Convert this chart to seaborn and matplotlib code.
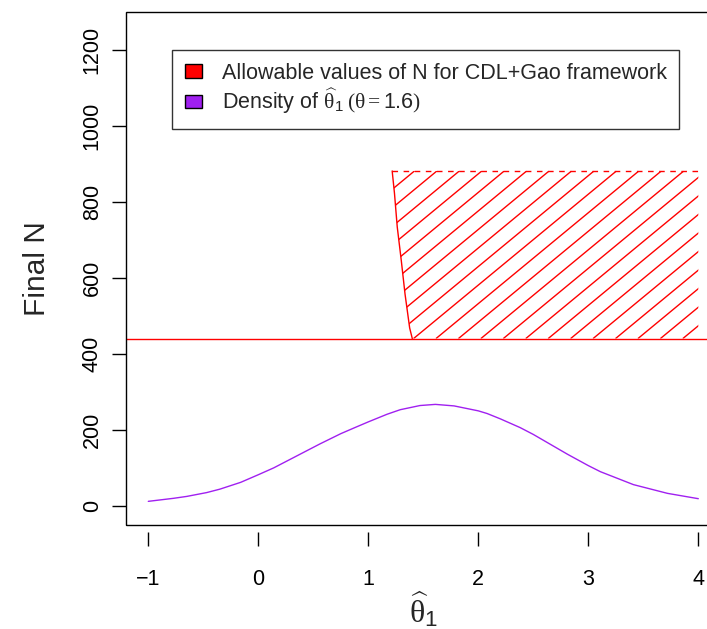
import matplotlib
matplotlib.use("Agg")
import matplotlib.pyplot as plt
import seaborn as sns
from matplotlib.patches import Polygon, Patch, Rectangle
from matplotlib.collections import LineCollection

# density of theta-hat (scaled)
theta_grid = [-1.0, -0.77, -0.65, -0.47, -0.35, -0.16, 0.0, 0.14, 0.26, 0.44,
              0.56, 0.75, 0.87, 1.0, 1.17, 1.29, 1.47, 1.61, 1.78, 2.0,
              2.08, 2.2, 2.38, 2.5, 2.81, 3.0, 3.11, 3.41, 3.72, 4.0]
density_n = [13, 21, 26, 36, 45, 63, 83, 101, 119, 146,
             164, 191, 206, 222, 242, 254, 265, 268, 264, 251,
             244, 230, 207, 189, 137, 107, 91, 57, 34, 20]

# allowable region for CDL+Gao framework
edge_theta = [1.217, 1.238, 1.263, 1.300, 1.334, 1.376, 1.400]
edge_n = [882, 823, 735, 646, 558, 469, 441]
region_right = 4.0
n_lower = 441
n_upper = 882

xticks = [-1, 0, 1, 2, 3, 4]
yticks = [0, 200, 400, 600, 800, 1000, 1200]
legend_labels = ["Allowable values of N for CDL+Gao framework",
                 r"Density of $\widehat{\mathrm{\theta}}_{\mathsf{1}}\;(\mathrm{\theta} = \mathsf{1.6})$"]

RED = "#FF0000"
PURPLE = "#A020F0"

sns.set_theme(style="white")
plt.rcParams["font.family"] = ["Liberation Sans", "DejaVu Sans"]
plt.rcParams["mathtext.fontset"] = "custom"
plt.rcParams["mathtext.rm"] = "Liberation Serif"
plt.rcParams["mathtext.sf"] = "Liberation Sans"
plt.rcParams["mathtext.it"] = "Liberation Serif:italic"

fig = plt.figure(figsize=(7.07, 6.29), dpi=100)
ax = fig.add_axes([126.3 / 707, (629 - 525.3) / 629, 594 / 707, 513.3 / 629])
ax.set_xlim(-1.2, 4.2)
ax.set_ylim(-50, 1300)

# hatched region
poly_x = edge_theta + [region_right, region_right]
poly_y = edge_n + [n_lower, n_upper]
clip = Polygon(list(zip(poly_x, poly_y)), closed=True, facecolor="none",
               edgecolor="none", transform=ax.transData)
ax.add_patch(clip)
hatch_slope = 239.0   # N per unit theta
hatch_step = 0.204
hatch_phase = 1.615
segs = []
for k in range(-12, 16):
    x0 = hatch_phase + k * hatch_step
    x1 = x0 + (n_upper - n_lower) / hatch_slope
    segs.append([(x0, n_lower), (x1, n_upper)])
lc = LineCollection(segs, colors=RED, linewidths=1.0)
ax.add_collection(lc)
lc.set_clip_path(clip)

sns.lineplot(x=edge_theta, y=edge_n, sort=False, estimator=None,
             color=RED, lw=1.0, ax=ax)
ax.plot([edge_theta[0], region_right], [n_upper, n_upper], color=RED,
        lw=1.0, dashes=(4, 4))
ax.axhline(n_lower, color=RED, lw=1.0)

sns.lineplot(x=theta_grid, y=density_n, color=PURPLE, lw=1.0,
             estimator=None, ax=ax)

# R-like box and axes
for s in ax.spines.values():
    s.set_visible(False)
ax.add_patch(Rectangle((0, 0), 1, 1, transform=ax.transAxes, fill=False,
                       edgecolor="black", lw=1.0, clip_on=False, zorder=5))
ax.spines["bottom"].set_position(("outward", 4.5))
ax.set_xticks(xticks)
ax.set_yticks(yticks)
ax.set_xticklabels(["\u22121" if t == -1 else str(t) for t in xticks])
ax.tick_params(axis="both", direction="out", length=10, width=1.0,
               color="black", labelsize=15.5, labelcolor="black")
ax.tick_params(axis="x", pad=17, bottom=True)
ax.tick_params(axis="y", pad=7, left=True)
for lab in ax.get_yticklabels():
    lab.set_rotation(90)
    lab.set_va("center")

ax.set_xlabel(r"$\widehat{\mathrm{\theta}}_{\mathsf{1}}$", fontsize=23, labelpad=0)
ax.set_ylabel("Final N", fontsize=21.5, labelpad=22)

handles = [Patch(facecolor=RED, edgecolor="black", lw=1.0, label=legend_labels[0]),
           Patch(facecolor=PURPLE, edgecolor="black", lw=1.0, label=legend_labels[1])]
leg = ax.legend(handles=handles, loc="upper left",
                bbox_to_anchor=((172 - 126.3) / 594, (525.3 - 50) / 513.3),
                borderaxespad=0, fontsize=15.5, frameon=True, fancybox=False,
                edgecolor="black", handlelength=0.8, handleheight=0.6,
                handletextpad=0.9, borderpad=0.6, labelspacing=0.1)
leg.get_frame().set_linewidth(1.0)

fig.savefig("out.png", dpi=100, facecolor="white")
